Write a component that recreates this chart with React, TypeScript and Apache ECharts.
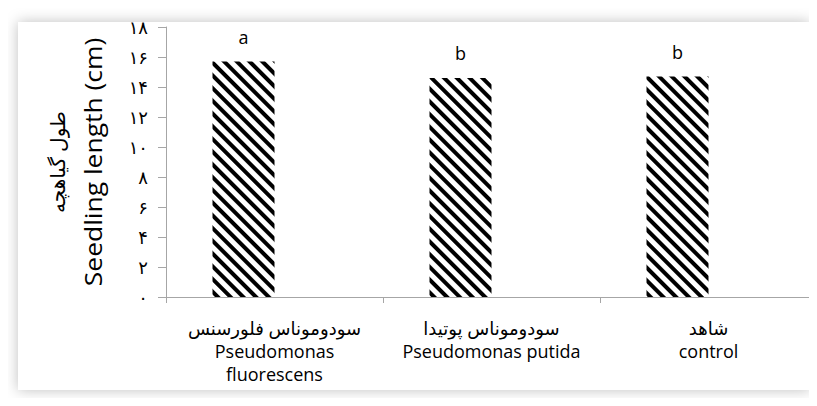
import React, { useEffect, useRef } from "react";
import * as echarts from "echarts";

const categories = [
  "سودوموناس فلورسنس\nPseudomonas\nfluorescens",
  "سودوموناس پوتیدا\nPseudomonas putida",
  "شاهد\ncontrol",
];
const seedlingLength = [15.7, 14.6, 14.7];
const significance = ["a", "b", "b"];
const yTicks = [0, 2, 4, 6, 8, 10, 12, 14, 16, 18];
const yNameFa = "طول گیاهچه";
const yNameEn = "Seedling length (cm)";

const toPersian = (n: number) =>
  String(n).replace(/[0-9]/g, (d) => "۰۱۲۳۴۵۶۷۸۹"[Number(d)]);

const FONT = "'Open Sans', 'DejaVu Sans', sans-serif";

export default function App() {
  const ref = useRef<HTMLDivElement>(null);
  useEffect(() => {
    if (!ref.current) return;
    const chart = echarts.init(ref.current, null, { renderer: "svg" });
    chart.setOption({
      animation: false,
      backgroundColor: "#ffffff",
      graphic: [
        {
          type: "rect",
          z: -10,
          silent: true,
          shape: { x: 18, y: 22, width: 792, height: 368 },
          style: {
            fill: "#ffffff",
            shadowColor: "rgba(0,0,0,0.25)",
            shadowBlur: 14,
          },
        },
        {
          type: "text",
          x: 93,
          y: 162,
          rotation: Math.PI / 2,
          scaleX: 1.15,
          style: {
            text: yNameEn,
            font: `23px ${FONT}`,
            fill: "#000",
            align: "center",
            verticalAlign: "middle",
          },
        },
        {
          type: "text",
          x: 57,
          y: 162,
          rotation: Math.PI / 2,
          style: {
            text: yNameFa,
            font: `20px ${FONT}`,
            fill: "#000",
            align: "center",
            verticalAlign: "middle",
          },
        },
      ],
      grid: { left: 166, right: -4, top: 27, bottom: 109 },
      xAxis: {
        type: "category",
        data: categories,
        axisLine: { lineStyle: { color: "#a6a6a6", width: 1 } },
        axisTick: { show: true, length: 6, lineStyle: { color: "#a6a6a6" } },
        axisLabel: {
          color: "#000",
          fontFamily: FONT,
          fontSize: 18,
          lineHeight: 23,
          margin: 19,
          interval: 0,
        },
      },
      yAxis: {
        type: "value",
        min: 0,
        max: 18,
        interval: 2,
        splitLine: { show: false },
        axisLine: { show: true, lineStyle: { color: "#a6a6a6", width: 1 } },
        axisTick: { show: true, length: 8, lineStyle: { color: "#a6a6a6" } },
        axisLabel: {
          color: "#000",
          fontFamily: FONT,
          fontSize: 18,
          margin: 18,
          formatter: (v: number) => (yTicks.includes(v) ? toPersian(v) : ""),
        },
      },
      series: [
        {
          type: "bar",
          data: seedlingLength,
          barWidth: 62,
          barGap: "0%",
          itemStyle: {
            color: "#ffffff",
            decal: {
              symbol: "rect",
              color: "#000000",
              dashArrayX: [1, 0],
              dashArrayY: [4, 4.3],
              rotation: Math.PI / 4,
            },
          },
          label: {
            show: true,
            position: "top",
            distance: 16,
            color: "#000",
            fontFamily: FONT,
            fontSize: 18,
            formatter: (p: any) => significance[p.dataIndex],
          },
        },
        {
          type: "bar",
          data: [null, null, null],
          barWidth: 62,
          barGap: "0%",
          itemStyle: { color: "transparent" },
        },
      ],
    });
    return () => chart.dispose();
  }, []);
  return <div ref={ref} style={{ width: 817, height: 406, margin: -8 }} />;
}
